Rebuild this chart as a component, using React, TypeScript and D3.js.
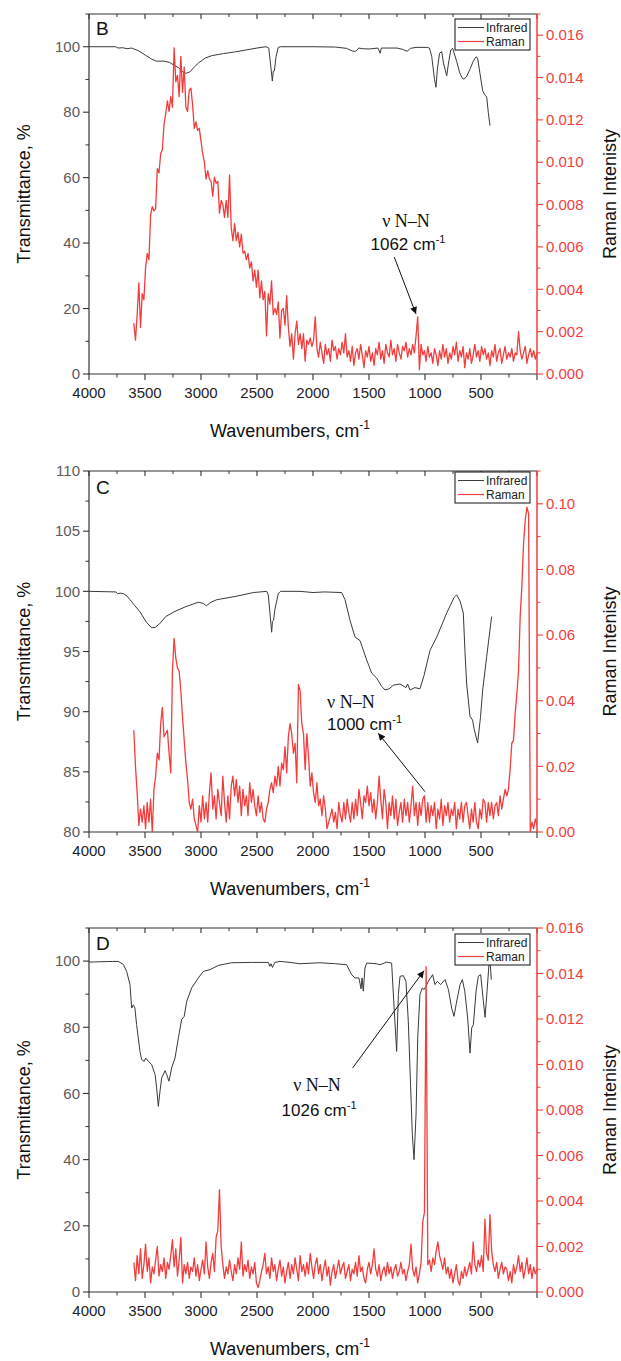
import React from 'react';
import * as d3 from 'd3';

// ---------- data ----------
const RAMAN_START = 3600; // cm-1, first Raman point
const RAMAN_STEP = 15; // cm-1 between Raman points (descending)

const xMajorTicks = [4000, 3500, 3000, 2500, 2000, 1500, 1000, 500];

// Panel B
const irB: [number, number][] = [
  [4000, 100], [3760, 100], [3740, 99.6], [3700, 99.7], [3660, 99.4], [3620, 99.6], [3560, 98.8], [3500, 97.5],
  [3440, 96.2], [3400, 95.6], [3330, 95.6], [3280, 95.2], [3240, 94.3], [3200, 93.6], [3160, 92.2], [3130, 91.9],
  [3100, 92.3], [3060, 93.8], [3020, 95.1], [2960, 96.6], [2900, 97.3], [2800, 97.9], [2700, 98.4], [2600, 99.0],
  [2500, 99.6], [2420, 100], [2395, 99.6], [2380, 95], [2363, 89.5], [2355, 92.5], [2345, 92.6], [2330, 97],
  [2310, 99.8], [2290, 100], [2000, 100], [1800, 99.9], [1700, 99.5], [1650, 98.7], [1620, 98.6], [1590, 99.6],
  [1560, 99.4], [1500, 99.3], [1420, 99.6], [1400, 98], [1390, 99.6], [1300, 99.6], [1250, 99.6], [1200, 99.2],
  [1160, 98.6], [1130, 99.5], [1080, 99.8], [980, 99.8], [960, 99.6], [940, 97], [915, 90], [902, 87.6],
  [890, 93], [870, 98], [851, 98.5], [835, 95], [806, 91.1], [790, 95], [770, 99], [753, 99.5], [735, 97.5],
  [717, 95.5], [690, 92], [665, 90.3], [652, 90.1], [630, 90.8], [600, 93], [570, 95.5], [545, 96.9], [530, 96.5],
  [510, 92], [485, 86.5], [470, 85.5], [449, 84.6], [435, 80], [420, 75.9],
];
// Raman intensity, x 1e-4
const ramanB = [
  24, 16, 28, 43, 22, 38, 35, 50, 57, 54,
  75, 79, 77, 78, 97, 95, 104, 106, 118, 123,
  129, 124, 131, 126, 154, 138, 141, 131, 150, 133,
  145, 126, 124, 134, 135, 127, 116, 119, 115, 116,
  110, 104, 100, 92, 96, 92, 91, 84, 93, 90,
  91, 76, 82, 80, 74, 82, 74, 94, 69, 63,
  71, 63, 67, 60, 66, 57, 58, 54, 57, 50,
  53, 44, 49, 41, 49, 36, 44, 35, 39, 18,
  38, 33, 44, 28, 31, 28, 34, 17, 30, 31,
  23, 37, 22, 13, 19, 7, 19, 25, 14, 19,
  12, 19, 6, 16, 14, 17, 13, 16, 27,
  12, 8, 15, 10, 5, 14, 9, 12, 6, 16, 11,
  13, 7, 12, 9, 15, 10, 19, 8, 11, 6,
  13, 4, 10, 12, 7, 14, 9, 3, 11, 8,
  13, 6, 10, 4, 12, 9, 15, 7, 11, 5,
  14, 10, 8, 16, 9, 12, 6, 14, 10, 7,
  13, 11, 15, 8, 12, 9, 14, 10, 18, 27,
  2, 14, 9, 11, 6, 13, 8, 10, 5, 12,
  9, 4, 11, 7, 14, 8, 12, 5, 10, 7,
  13, 9, 15, 6, 11, 8, 13, 3, 10, 7,
  12, 5, 9, 14, 8, 11, 6, 13, 9, 12,
  7, 10, 4, 11, 8, 14, 6, 10, 12, 5,
  9, 13, 7, 10, 8, 12, 6, 10, 9, 20,
  11, 7, 10, 13, 5, 9, 12, 8, 11, 7, 10,
];

// Panel C
const irC: [number, number][] = [
  [4000, 100], [3760, 99.95], [3745, 99.8], [3720, 99.85], [3690, 99.8], [3660, 99.6], [3634, 99.3], [3590, 98.8],
  [3545, 98.3], [3485, 97.4], [3440, 96.97], [3410, 97.0], [3370, 97.3], [3315, 97.9], [3240, 98.3], [3143, 98.7],
  [3024, 99.1], [2980, 99.0], [2952, 98.8], [2910, 99.1], [2860, 99.3], [2680, 99.6], [2532, 99.9], [2413, 100],
  [2399, 99.7], [2369, 96.6], [2362, 97.5], [2352, 97.6], [2340, 98.5], [2310, 99.8], [2290, 100], [2116, 100],
  [2000, 99.9], [1900, 99.95], [1744, 99.9], [1714, 99.3], [1670, 97.6], [1625, 96.2], [1580, 95.9], [1521, 94.3],
  [1476, 93.2], [1432, 92.8], [1387, 92.1], [1357, 91.8], [1320, 91.9], [1283, 92.2], [1223, 92.3], [1170, 92.0],
  [1155, 92.3], [1134, 91.8], [1090, 92.0], [1045, 91.9], [1009, 93.0], [955, 95.1], [895, 96.2], [806, 98.2],
  [740, 99.5], [717, 99.7], [687, 99.2], [658, 98.2], [643, 95], [628, 92.3], [598, 89.6], [575, 89.3],
  [560, 88.5], [530, 87.4], [505, 89.5], [485, 91.8], [449, 94.6], [405, 97.9],
];
// Raman intensity, x 1e-3
const ramanC = [
  31, 20, 12, 2, 7, 3, 8, 1, 9, 3,
  10, 0, 13, 17, 24, 22, 33, 38, 29, 30,
  31, 24, 18, 49, 59, 53, 50, 49, 43, 35,
  28, 21, 16, 9, 7, 10, 4, 2, 0, 8,
  3, 11, 4, 9, 3, 12, 18, 7, 11, 4,
  13, 9, 5, 17, 9, 3, 11, 4, 14, 17,
  11, 16, 9, 14, 5, 13, 8, 11, 5, 15,
  9, 13, 8, 5, 11, 6, 9, 4, 3, 7,
  9, 13, 15, 12, 17, 14, 20, 14, 21, 19,
  26, 18, 29, 33, 30, 24, 27, 15, 45, 43,
  33, 30, 19, 30, 23, 14, 18, 12, 9, 15,
  8, 10, 5, 11, 7, 1, 3, 5, 7, 3,
  6, 1, 9, 5, 3, 9, 4, 10, 6, 3,
  9, 4, 10, 5, 13, 9, 4, 11, 9, 14,
  8, 12, 6, 10, 4, 9, 17, 10, 4, 13,
  9, 1, 9, 5, 11, 4, 10, 2, 6, 9,
  3, 10, 5, 9, 3, 8, 14, 5, 9, 2,
  9, 5, 10, 11, 3, 9, 3, 8, 5, 9,
  1, 7, 4, 10, 2, 8, 5, 9, 3, 7,
  5, 9, 1, 7, 4, 9, 3, 8, 9, 5,
  1, 7, 3, 9, 3, 1, 7, 4, 10, 9,
  3, 9, 5, 9, 4, 8, 9, 5, 11, 7,
  10, 13, 11, 13, 19, 27, 28, 36, 42, 49,
  66, 75, 88, 95, 99, 97, 0, 3, 1, 4, 2,
];

// Panel D
const irD: [number, number][] = [
  [4000, 99.7], [3790, 99.9], [3738, 99.9], [3694, 99], [3664, 96.9], [3634, 92.9], [3619, 85.8], [3604, 86.8],
  [3590, 85.8], [3575, 80.8], [3560, 76.8], [3545, 72.7], [3530, 70.2], [3506, 69.7], [3494, 70.7], [3470, 69.7],
  [3440, 68.7], [3410, 65.7], [3396, 61.7], [3381, 56.1], [3366, 60.7], [3351, 64.7], [3321, 66.9], [3306, 65.7],
  [3286, 63.7], [3262, 67.7], [3232, 70.7], [3202, 76.8], [3173, 82.3], [3150, 83.3], [3128, 87.8], [3083, 91.9],
  [3024, 94.9], [2979, 96.9], [2920, 97.4], [2845, 98.7], [2726, 99.5], [2548, 99.6], [2399, 99.6], [2385, 98.4],
  [2375, 99.2], [2362, 98.1], [2340, 99.6], [2295, 99.9], [2205, 99.6], [2116, 99.2], [1938, 99.5], [1800, 99.2],
  [1700, 98.9], [1655, 95.9], [1625, 94.9], [1590, 94.9], [1571, 91.6], [1562, 94.9], [1551, 90.9], [1536, 97.9],
  [1521, 99.4], [1432, 99.2], [1402, 98.9], [1342, 99.7], [1298, 99.4], [1274, 84.8], [1253, 72.7], [1238, 89.9],
  [1223, 95.4], [1193, 95.6], [1170, 93.9], [1149, 81.8], [1128, 61.7], [1113, 47.6], [1098, 40], [1080, 53.6],
  [1065, 76.8], [1045, 89.9], [1024, 91.9], [1009, 91.4], [991, 92.4], [970, 93.9], [932, 95.9], [911, 92.9],
  [890, 93.9], [860, 92.9], [821, 94.4], [791, 91.4], [762, 85.8], [741, 83.3], [720, 87.3], [687, 92.9],
  [666, 94.4], [645, 90.9], [619, 82.8], [598, 72.2], [583, 79.8], [568, 80.8], [544, 90.9], [524, 95.4],
  [503, 95.9], [482, 88.9], [464, 83], [446, 90.9], [429, 99], [417, 99], [408, 94.4],
];
// Raman intensity, x 1e-4
const ramanD = [
  13, 5, 16, 8, 19, 6, 12, 21, 9, 15,
  4, 11, 8, 14, 20, 7, 12, 9, 15, 6,
  13, 10, 16, 23, 11, 19, 7, 14, 24, 4,
  12, 8, 13, 6, 11, 9, 15, 7, 12, 5,
  10, 14, 8, 22, 11, 6, 13, 17, 9, 24,
  27, 45, 20, 12, 6, 11, 8, 14, 9, 5,
  12, 8, 15, 10, 22, 7, 12, 9, 14, 6,
  11, 8, 13, 4, 2, 5, 9, 12, 17, 8,
  11, 6, 15, 9, 12, 5, 10, 14, 7, 11,
  4, 9, 13, 6, 12, 8, 15, 10, 5, 16,
  9, 12, 7, 13, 8, 17, 11, 6, 12,
  15, 8, 12, 5, 10, 14, 7, 11, 3, 9, 12,
  6, 10, 14, 8, 11, 13, 6, 9, 12, 5,
  10, 8, 13, 7, 16, 9, 11, 6, 4, 10,
  13, 8, 12, 19, 10, 7, 12, 5, 9, 11,
  7, 13, 8, 11, 6, 10, 12, 7, 9, 13,
  8, 10, 5, 9, 12, 21, 10, 7, 11, 4,
  8, 13, 31, 35, 143, 12, 14, 9, 15, 12,
  18, 22, 16, 13, 10, 15, 8, 11, 6, 10,
  4, 8, 12, 5, 3, 9, 6, 11, 7, 10,
  13, 8, 22, 12, 9, 14, 11, 16, 9, 32,
  17, 14, 34, 18, 12, 9, 13, 6, 10, 13,
  8, 11, 10, 5, 9, 4, 12, 8, 11, 16,
  9, 13, 6, 10, 15, 8, 12, 6, 11, 8, 10,
];

// ---------- styling / layout ----------
const FONT = '"Liberation Sans", Arial, Helvetica, sans-serif';
const SERIF = '"Liberation Serif", "Times New Roman", serif';
const RED = '#f23d3d';
const IR_COLOR = '#3a3a3a';
const AXIS_COLOR = '#333';
const PLOT_LEFT = 89;
const PLOT_RIGHT = 537;

type Ann = {
  num: string;
  anchor: 'middle' | 'start';
  v1: number; t1: number; v2: number; t2: number;
  tail: [number, number]; tip: [number, number];
};

type PanelCfg = {
  letter: string;
  top: number;
  bottom: number;
  yL: [number, number];
  yLMajor: number;
  yLMinor: number;
  yR: [number, number];
  yRMajor: number;
  yRMinor: number;
  yRMax: number;
  rFmt: string;
  ir: [number, number][];
  raman: number[];
  ramanUnit: number;
  legendDy: number;
  letterDy: number;
  ann: Ann;
};

const panels: PanelCfg[] = [
  {
    letter: 'B', top: 14, bottom: 374, yL: [0, 110], yLMajor: 20, yLMinor: 10,
    yR: [0, 0.017], yRMajor: 0.002, yRMinor: 0.001, yRMax: 0.016, rFmt: '.3f',
    ir: irB, raman: ramanB, ramanUnit: 1e-4, legendDy: 5, letterDy: 21,
    ann: { num: '1062', anchor: 'middle', v1: 1170, t1: 44.9, v2: 1152, t2: 37.9, tail: [1274, 35.7], tip: [1080, 18.3] },
  },
  {
    letter: 'C', top: 471, bottom: 832, yL: [80, 110], yLMajor: 5, yLMinor: 2.5,
    yR: [0, 0.11], yRMajor: 0.02, yRMinor: 0.01, yRMax: 0.1, rFmt: '.2f',
    ir: irC, raman: ramanC, ramanUnit: 1e-3, legendDy: 1, letterDy: 23,
    ann: { num: '1000', anchor: 'start', v1: 1875, t1: 90.3, v2: 1875, t2: 88.5, tail: [1000, 83.35], tip: [1417, 88.2] },
  },
  {
    letter: 'D', top: 928, bottom: 1292, yL: [0, 110], yLMajor: 20, yLMinor: 10,
    yR: [0, 0.016], yRMajor: 0.002, yRMinor: 0.001, yRMax: 0.016, rFmt: '.3f',
    ir: irD, raman: ramanD, ramanUnit: 1e-4, legendDy: 6, letterDy: 22,
    ann: { num: '1026', anchor: 'middle', v1: 1964, t1: 60.7, v2: 1946, t2: 53.2, tail: [1646, 67.7], tip: [1009, 97.1] },
  },
];

function Panel({ p, idx }: { p: PanelCfg; idx: number }) {
  const x = d3.scaleLinear().domain([4000, 0]).range([PLOT_LEFT, PLOT_RIGHT]);
  const yL = d3.scaleLinear().domain(p.yL).range([p.bottom, p.top]);
  const yR = d3.scaleLinear().domain(p.yR).range([p.bottom, p.top]);

  const irPath = d3.line<[number, number]>().x((d) => x(d[0])).y((d) => yL(d[1]))(p.ir) || '';
  const ramanPts: [number, number][] = p.raman.map((v, i) => [RAMAN_START - i * RAMAN_STEP, v * p.ramanUnit]);
  const ramanPath = d3.line<[number, number]>().x((d) => x(d[0])).y((d) => yR(d[1]))(ramanPts) || '';

  const xMinor = d3.range(4000, -1, -250).filter((v) => v % 500 !== 0);
  const xMajorAll = d3.range(4000, -1, -500);
  const leftMajor = d3.range(p.yL[0], p.yL[1] + 1e-9, p.yLMajor);
  const leftMinor = d3.range(p.yL[0], p.yL[1] + 1e-9, p.yLMinor).filter((v) => Math.abs(v / p.yLMajor - Math.round(v / p.yLMajor)) > 1e-6);
  const nR = Math.round((p.yR[1] - p.yR[0]) / p.yRMinor);
  const rightAll = d3.range(0, nR + 1).map((k) => k * p.yRMinor);
  const ratio = Math.round(p.yRMajor / p.yRMinor);
  const rightMajor = rightAll.filter((_, k) => k % ratio === 0 && k * p.yRMinor <= p.yRMax + 1e-9);
  const rightMinor = rightAll.filter((_, k) => k % ratio !== 0);
  const fmt = d3.format(p.rFmt);
  const midY = (p.top + p.bottom) / 2;
  const clipId = `clip${idx}`;
  const lx = 455;
  const ly = p.top + p.legendDy;
  const a = p.ann;

  return (
    <g>
      <defs>
        <clipPath id={clipId}>
          <rect x={PLOT_LEFT} y={p.top} width={PLOT_RIGHT - PLOT_LEFT} height={p.bottom - p.top} />
        </clipPath>
      </defs>
      {/* frame lines */}
      <line x1={PLOT_LEFT} x2={PLOT_RIGHT} y1={p.top} y2={p.top} stroke={AXIS_COLOR} strokeWidth={1.2} />
      <line x1={PLOT_LEFT} x2={PLOT_RIGHT} y1={p.bottom} y2={p.bottom} stroke={AXIS_COLOR} strokeWidth={1.2} />
      <line x1={PLOT_LEFT} x2={PLOT_LEFT} y1={p.top} y2={p.bottom} stroke={AXIS_COLOR} strokeWidth={1.2} />

      {/* x ticks bottom + top */}
      {xMajorAll.map((v) => (
        <g key={'xm' + v}>
          <line x1={x(v)} x2={x(v)} y1={p.bottom} y2={p.bottom + 6} stroke={AXIS_COLOR} strokeWidth={1.1} />
          <line x1={x(v)} x2={x(v)} y1={p.top} y2={p.top + 5} stroke={AXIS_COLOR} strokeWidth={1.1} />
        </g>
      ))}
      {xMinor.map((v) => (
        <g key={'xn' + v}>
          <line x1={x(v)} x2={x(v)} y1={p.bottom} y2={p.bottom + 3.5} stroke={AXIS_COLOR} strokeWidth={1} />
          <line x1={x(v)} x2={x(v)} y1={p.top} y2={p.top + 3} stroke={AXIS_COLOR} strokeWidth={1} />
        </g>
      ))}
      {xMajorTicks.map((v) => (
        <text key={'xl' + v} x={x(v)} y={p.bottom + 24} textAnchor="middle" fontSize={15} fontFamily={FONT} fill="#222">
          {v}
        </text>
      ))}

      {/* left axis */}
      {leftMajor.map((v) => (
        <g key={'lm' + v}>
          <line x1={PLOT_LEFT - 6} x2={PLOT_LEFT} y1={yL(v)} y2={yL(v)} stroke={AXIS_COLOR} strokeWidth={1.1} />
          {!(p.yL[0] === 0 && v > 100) && (
            <text x={PLOT_LEFT - 9} y={yL(v)} dy="0.35em" textAnchor="end" fontSize={15} fontFamily={FONT} fill="#5a5a5a">
              {v}
            </text>
          )}
        </g>
      ))}
      {leftMinor.map((v) => (
        <line key={'ln' + v} x1={PLOT_LEFT - 3.5} x2={PLOT_LEFT} y1={yL(v)} y2={yL(v)} stroke={AXIS_COLOR} strokeWidth={1} />
      ))}

      {/* right axis */}
      <line x1={PLOT_RIGHT} x2={PLOT_RIGHT} y1={p.top} y2={p.bottom} stroke={RED} strokeWidth={1.5} />
      {rightMajor.map((v) => (
        <g key={'rm' + v}>
          <line x1={PLOT_RIGHT} x2={PLOT_RIGHT + 6} y1={yR(v)} y2={yR(v)} stroke={RED} strokeWidth={1.1} />
          <text x={PLOT_RIGHT + 9} y={yR(v)} dy="0.35em" textAnchor="start" fontSize={15} fontFamily={FONT} fill={RED}>
            {fmt(v)}
          </text>
        </g>
      ))}
      {rightMinor.map((v) => (
        <line key={'rn' + v} x1={PLOT_RIGHT} x2={PLOT_RIGHT + 3.5} y1={yR(v)} y2={yR(v)} stroke={RED} strokeWidth={1} />
      ))}

      {/* data */}
      <g clipPath={`url(#${clipId})`}>
        <path d={irPath} fill="none" stroke={IR_COLOR} strokeWidth={1} strokeLinejoin="round" />
        <path d={ramanPath} fill="none" stroke={RED} strokeWidth={1.3} strokeLinejoin="round" />
      </g>

      {/* panel letter */}
      <text x={96} y={p.top + p.letterDy} fontSize={19} fontFamily={FONT} fill="#111">
        {p.letter}
      </text>

      {/* legend */}
      <rect x={lx} y={ly} width={75} height={31} fill="white" stroke="#111" strokeWidth={1} />
      <line x1={lx + 3} x2={lx + 29} y1={ly + 8.5} y2={ly + 8.5} stroke={IR_COLOR} strokeWidth={1} />
      <text x={lx + 31} y={ly + 8.5} dy="0.35em" fontSize={12} fontFamily={FONT} fill="#222">Infrared</text>
      <line x1={lx + 3} x2={lx + 29} y1={ly + 22.5} y2={ly + 22.5} stroke={RED} strokeWidth={1.2} />
      <text x={lx + 31} y={ly + 22.5} dy="0.35em" fontSize={12} fontFamily={FONT} fill="#222">Raman</text>

      {/* annotation */}
      <text x={x(a.v1)} y={yL(a.t1)} textAnchor={a.anchor} fontSize={18} fontFamily={SERIF} fill="#111">
        ν N–N
      </text>
      <text x={x(a.v2)} y={yL(a.t2)} textAnchor={a.anchor} fontSize={17} fontFamily={FONT} fill="#111">
        {a.num} cm<tspan dy={-7} fontSize={11}>-1</tspan>
      </text>
      <line x1={x(a.tail[0])} y1={yL(a.tail[1])} x2={x(a.tip[0])} y2={yL(a.tip[1])} stroke="#111" strokeWidth={1} markerEnd="url(#arrowHead)" />

      {/* axis titles */}
      <text x={290} y={p.bottom + 63} textAnchor="middle" fontSize={18} fontFamily={FONT} fill="#111">
        Wavenumbers, cm<tspan dy={-8} fontSize={12}>-1</tspan>
      </text>
      <text transform={`translate(30,${midY}) rotate(-90)`} textAnchor="middle" fontSize={18} fontFamily={FONT} fill="#111">
        Transmittance, %
      </text>
      <text transform={`translate(616,${midY}) rotate(-90)`} textAnchor="middle" fontSize={18} fontFamily={FONT} fill="#111">
        Raman Intenisty
      </text>
    </g>
  );
}

export default function App() {
  return (
    <svg width={621} height={1361} style={{ position: 'absolute', left: 0, top: 0, background: 'white' }}>
      <defs>
        <marker id="arrowHead" viewBox="0 0 10 10" refX="10" refY="5" markerWidth="9" markerHeight="7" markerUnits="userSpaceOnUse" orient="auto">
          <path d="M0,0 L10,5 L0,10 z" fill="#111" />
        </marker>
      </defs>
      <rect x={0} y={0} width={621} height={1361} fill="white" />
      {panels.map((p, i) => (
        <Panel key={p.letter} p={p} idx={i} />
      ))}
    </svg>
  );
}
